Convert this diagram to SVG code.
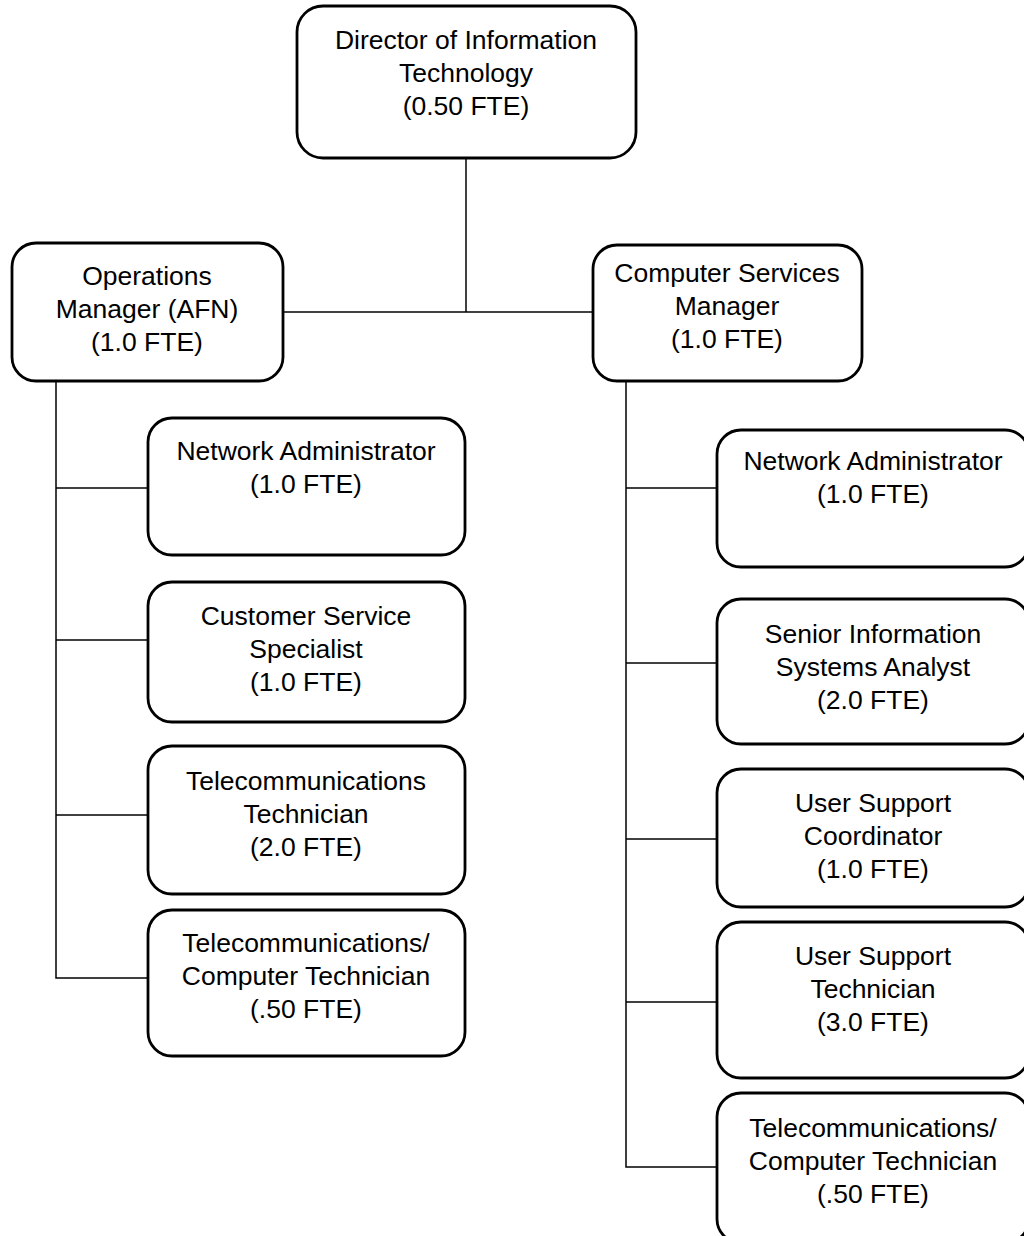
<svg xmlns="http://www.w3.org/2000/svg" width="1024" height="1236" viewBox="0 0 1024 1236">
  <style>
    .box { fill: #ffffff; stroke: #000000; stroke-width: 2.8; }
    .link { fill: none; stroke: #000000; stroke-width: 1.5; }
    text { font-family: "Liberation Sans", Arial, sans-serif; font-size: 26.5px; fill: #000000; text-anchor: middle; }
  </style>
  <rect width="1024" height="1236" fill="#ffffff"/>

  <g id="connectors">
    <!-- director down to managers -->
    <path class="link" d="M466,158 V312"/>
    <path class="link" d="M283,312 H593"/>
    <!-- operations manager branch -->
    <path class="link" d="M56,381 V978 H148"/>
    <path class="link" d="M56,488 H148"/>
    <path class="link" d="M56,640 H148"/>
    <path class="link" d="M56,815 H148"/>
    <!-- computer services manager branch -->
    <path class="link" d="M626,381 V1167 H717"/>
    <path class="link" d="M626,488 H717"/>
    <path class="link" d="M626,663 H717"/>
    <path class="link" d="M626,839 H717"/>
    <path class="link" d="M626,1002 H717"/>
  </g>

  <g id="director">
    <rect class="box" x="297" y="6" width="339" height="152" rx="26"/>
    <text x="466" y="49">Director of Information</text>
    <text x="466" y="82">Technology</text>
    <text x="466" y="115">(0.50 FTE)</text>
  </g>

  <g id="operations-manager">
    <rect class="box" x="12" y="243" width="271" height="138" rx="24"/>
    <text x="147" y="285">Operations</text>
    <text x="147" y="318">Manager (AFN)</text>
    <text x="147" y="351">(1.0 FTE)</text>
  </g>

  <g id="computer-services-manager">
    <rect class="box" x="593" y="245" width="269" height="136" rx="24"/>
    <text x="727" y="282">Computer Services</text>
    <text x="727" y="315">Manager</text>
    <text x="727" y="348">(1.0 FTE)</text>
  </g>

  <g id="ops-network-administrator">
    <rect class="box" x="148" y="418" width="317" height="137" rx="24"/>
    <text x="306" y="460">Network Administrator</text>
    <text x="306" y="493">(1.0 FTE)</text>
  </g>

  <g id="ops-customer-service-specialist">
    <rect class="box" x="148" y="582" width="317" height="140" rx="24"/>
    <text x="306" y="625">Customer Service</text>
    <text x="306" y="658">Specialist</text>
    <text x="306" y="691">(1.0 FTE)</text>
  </g>

  <g id="ops-telecommunications-technician">
    <rect class="box" x="148" y="746" width="317" height="148" rx="24"/>
    <text x="306" y="790">Telecommunications</text>
    <text x="306" y="823">Technician</text>
    <text x="306" y="856">(2.0 FTE)</text>
  </g>

  <g id="ops-telecom-computer-technician">
    <rect class="box" x="148" y="910" width="317" height="146" rx="24"/>
    <text x="306" y="952">Telecommunications/</text>
    <text x="306" y="985">Computer Technician</text>
    <text x="306" y="1018">(.50 FTE)</text>
  </g>

  <g id="cs-network-administrator">
    <rect class="box" x="717" y="430" width="312" height="137" rx="24"/>
    <text x="873" y="470">Network Administrator</text>
    <text x="873" y="503">(1.0 FTE)</text>
  </g>

  <g id="cs-senior-information-systems-analyst">
    <rect class="box" x="717" y="599" width="312" height="145" rx="24"/>
    <text x="873" y="643">Senior Information</text>
    <text x="873" y="676">Systems Analyst</text>
    <text x="873" y="709">(2.0 FTE)</text>
  </g>

  <g id="cs-user-support-coordinator">
    <rect class="box" x="717" y="769" width="312" height="138" rx="24"/>
    <text x="873" y="812">User Support</text>
    <text x="873" y="845">Coordinator</text>
    <text x="873" y="878">(1.0 FTE)</text>
  </g>

  <g id="cs-user-support-technician">
    <rect class="box" x="717" y="922" width="312" height="156" rx="24"/>
    <text x="873" y="965">User Support</text>
    <text x="873" y="998">Technician</text>
    <text x="873" y="1031">(3.0 FTE)</text>
  </g>

  <g id="cs-telecom-computer-technician">
    <rect class="box" x="717" y="1093" width="312" height="150" rx="24"/>
    <text x="873" y="1137">Telecommunications/</text>
    <text x="873" y="1170">Computer Technician</text>
    <text x="873" y="1203">(.50 FTE)</text>
  </g>
</svg>
